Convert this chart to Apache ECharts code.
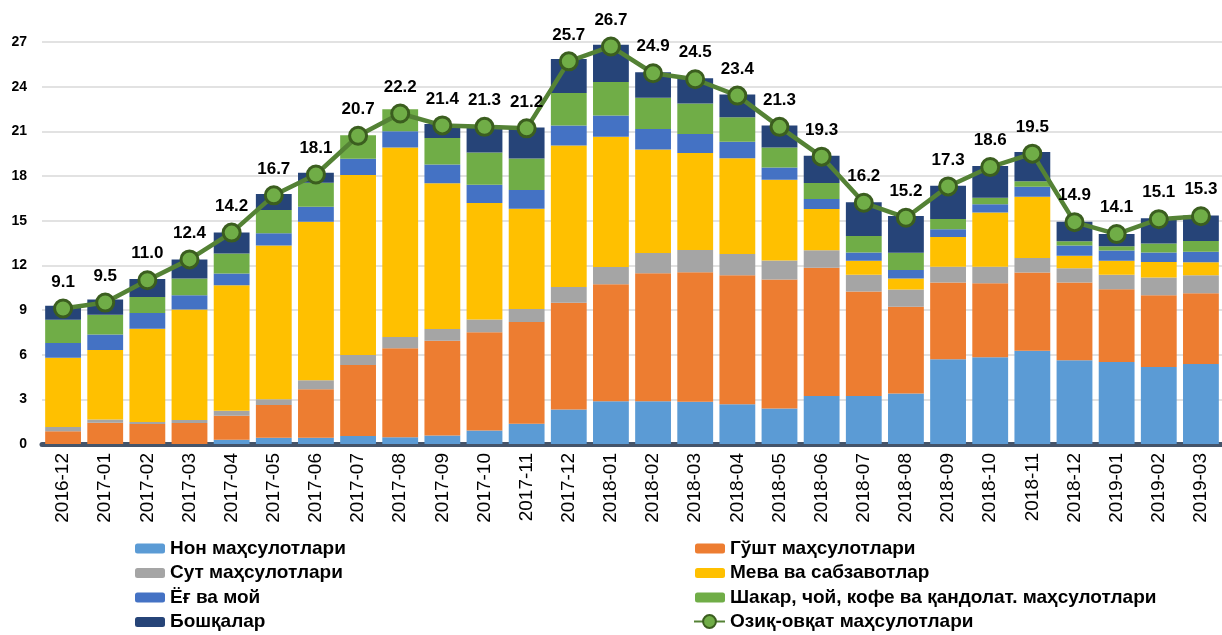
<!DOCTYPE html>
<html>
<head>
<meta charset="utf-8">
<script src="https://cdn.jsdelivr.net/npm/echarts@6/dist/echarts.min.js"></script>
<style>
  html, body { margin: 0; padding: 0; background: #fff; }
  #chart { width: 1222px; height: 635px; }
</style>
</head>
<body>
<div id="chart"></div>
<script>
// oylar
var months = ['2016-12','2017-01','2017-02','2017-03','2017-04','2017-05','2017-06','2017-07','2017-08','2017-09','2017-10','2017-11','2017-12',
  '2018-01','2018-02','2018-03','2018-04','2018-05','2018-06','2018-07','2018-08','2018-09','2018-10','2018-11','2018-12',
  '2019-01','2019-02','2019-03'];

var non = [0, 0, 0, 0, 0.28, 0.42, 0.42, 0.53, 0.46, 0.57, 0.91, 1.36, 2.31, 2.87, 2.87, 2.83, 2.67, 2.38, 3.23, 3.23, 3.39, 5.69, 5.82, 6.27, 5.62, 5.51, 5.17, 5.37];
var gusht = [0.86, 1.43, 1.34, 1.41, 1.62, 2.2, 3.26, 4.77, 5.97, 6.36, 6.6, 6.83, 7.18, 7.86, 8.6, 8.71, 8.67, 8.67, 8.61, 7.01, 5.83, 5.15, 4.98, 5.25, 5.22, 4.88, 4.82, 4.75];
var sut = [0.28, 0.22, 0.13, 0.2, 0.34, 0.38, 0.61, 0.68, 0.75, 0.79, 0.85, 0.88, 1.06, 1.15, 1.35, 1.49, 1.42, 1.28, 1.17, 1.12, 1.15, 1.07, 1.11, 0.97, 0.97, 0.97, 1.19, 1.22];
var meva = [4.66, 4.67, 6.27, 7.43, 8.42, 10.34, 10.63, 12.09, 12.74, 9.79, 7.82, 6.73, 9.5, 8.76, 6.96, 6.51, 6.44, 5.41, 2.77, 0.95, 0.74, 2.0, 3.64, 4.12, 0.84, 0.95, 1.04, 0.86];
var yog = [0.99, 1.03, 1.06, 0.95, 0.79, 0.82, 1.01, 1.09, 1.08, 1.26, 1.24, 1.26, 1.34, 1.42, 1.38, 1.28, 1.1, 0.83, 0.67, 0.56, 0.57, 0.52, 0.56, 0.67, 0.69, 0.68, 0.65, 0.72];
var shakar = [1.55, 1.33, 1.08, 1.12, 1.35, 1.55, 1.62, 1.57, 1.49, 1.78, 2.16, 2.12, 2.18, 2.25, 2.1, 2.05, 1.65, 1.35, 1.08, 1.1, 1.17, 0.69, 0.43, 0.37, 0.27, 0.29, 0.59, 0.72];
var boshqa = [0.95, 1.02, 1.21, 1.29, 1.4, 1.08, 0.66, 0, 0, 0.95, 1.72, 2.07, 2.29, 2.5, 1.71, 1.69, 1.53, 1.47, 1.83, 2.26, 2.47, 2.23, 2.14, 1.96, 1.31, 0.83, 1.71, 1.71];
// umumiy oziq-ovqat inflyatsiyasi
var ozik = [9.1, 9.5, 11.0, 12.4, 14.2, 16.7, 18.1, 20.7, 22.2, 21.4, 21.3, 21.2, 25.7, 26.7, 24.9, 24.5, 23.4, 21.3, 19.3, 16.2, 15.2, 17.3, 18.6, 19.5, 14.9, 14.1, 15.1, 15.3];

var yTicks = [0, 3, 6, 9, 12, 15, 18, 21, 24, 27];

var font = "'Liberation Sans', Arial, sans-serif";

function bar(name, data, color) {
  return {
    name: name, type: 'bar', stack: 'jami', data: data,
    barCategoryGap: '15%',
    itemStyle: { color: color },
    emphasis: { disabled: true }
  };
}

var legendText = { fontFamily: font, fontWeight: 'bold', fontSize: 19, color: '#000', lineHeight: 19 };

var chart = echarts.init(document.getElementById('chart'));
chart.setOption({
  animation: false,
  grid: { left: 42, top: 42, width: 1190, height: 402 },
  legend: [
    {
      orient: 'vertical', left: 135, top: 539, itemGap: 5.5, padding: 0,
      itemWidth: 30, itemHeight: 10, textStyle: legendText,
      data: ['Нон маҳсулотлари', 'Сут маҳсулотлари', 'Ёғ ва мой', 'Бошқалар']
    },
    {
      orient: 'vertical', left: 695, top: 539, itemGap: 5.5, padding: 0,
      itemWidth: 30, itemHeight: 10, textStyle: legendText,
      data: ['Гўшт маҳсулотлари', 'Мева ва сабзавотлар', 'Шакар, чой, кофе ва қандолат. маҳсулотлари']
    },
    {
      left: 693, top: 612, padding: 0,
      itemWidth: 31, itemHeight: 16, itemGap: 0, textStyle: legendText,
      data: ['Озиқ-овқат маҳсулотлари']
    }
  ],
  xAxis: {
    type: 'category', data: months,
    axisTick: { show: false },
    axisLine: { lineStyle: { color: '#44546a', width: 5 } },
    axisLabel: { rotate: 90, interval: 0, margin: 9, fontFamily: font, fontSize: 19, color: '#000' }
  },
  yAxis: {
    type: 'value', min: 0, max: 27, interval: 3,
    axisLine: { show: false }, axisTick: { show: false },
    splitLine: { lineStyle: { color: '#d9d9d9', width: 1.5 } },
    axisLabel: {
      margin: 15, fontFamily: font, fontWeight: 'bold', fontSize: 14, color: '#000',
      formatter: function (v) { return yTicks.indexOf(v) >= 0 ? String(v) : ''; }
    }
  },
  series: [
    bar('Нон маҳсулотлари', non, '#5b9bd5'),
    bar('Гўшт маҳсулотлари', gusht, '#ed7d31'),
    bar('Сут маҳсулотлари', sut, '#a5a5a5'),
    bar('Мева ва сабзавотлар', meva, '#ffc000'),
    bar('Ёғ ва мой', yog, '#4472c4'),
    bar('Шакар, чой, кофе ва қандолат. маҳсулотлари', shakar, '#70ad47'),
    bar('Бошқалар', boshqa, '#264478'),
    {
      name: 'Озиқ-овқат маҳсулотлари', type: 'line', data: ozik, z: 10,
      symbol: 'circle', symbolSize: 17,
      lineStyle: { color: '#548235', width: 4.5 },
      itemStyle: { color: '#70ad47', borderColor: '#3b5e1f', borderWidth: 3 },
      label: {
        show: true, position: 'top', distance: 8,
        fontFamily: font, fontWeight: 'bold', fontSize: 17, color: '#000',
        formatter: function (p) { return p.value.toFixed(1); }
      },
      emphasis: { disabled: true }
    }
  ]
});
</script>
</body>
</html>
